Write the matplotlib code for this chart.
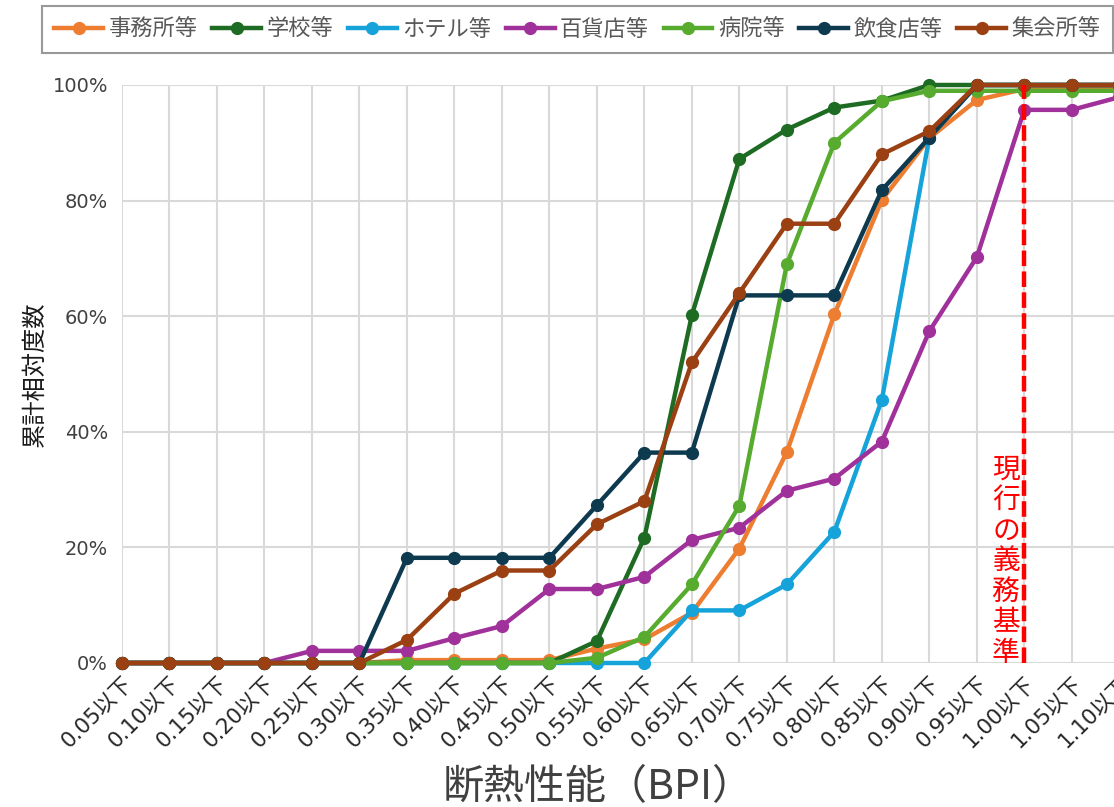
import matplotlib
matplotlib.use("Agg")
import matplotlib.pyplot as plt
from matplotlib.ticker import PercentFormatter

plt.rcParams['font.family'] = ['DejaVu Sans', 'Noto Sans CJK JP']
CJK = ['Noto Sans CJK JP', 'DejaVu Sans']

categories = ['0.05以下', '0.10以下', '0.15以下', '0.20以下', '0.25以下', '0.30以下',
              '0.35以下', '0.40以下', '0.45以下', '0.50以下', '0.55以下', '0.60以下',
              '0.65以下', '0.70以下', '0.75以下', '0.80以下', '0.85以下', '0.90以下',
              '0.95以下', '1.00以下', '1.05以下', '1.10以下']

# 累計相対度数 (%)
office = [0, 0, 0, 0, 0, 0, 0.5, 0.5, 0.5, 0.5, 2.5, 4.1, 8.7, 19.8, 36.5, 60.3, 80.1, 90.8, 97.4, 99.3, 99.3, 99.3]
school = [0, 0, 0, 0, 0, 0, 0, 0, 0, 0, 3.8, 21.7, 60.2, 87.2, 92.3, 96.1, 97.3, 100, 100, 100, 100, 100]
hotel = [0, 0, 0, 0, 0, 0, 0, 0, 0, 0, 0, 0, 9.1, 9.1, 13.6, 22.7, 45.5, 90.9, 100, 100, 100, 100]
dept = [0, 0, 0, 0, 2.1, 2.1, 2.1, 4.3, 6.4, 12.8, 12.8, 14.9, 21.3, 23.4, 29.8, 31.9, 38.3, 57.4, 70.2, 95.7, 95.7, 97.9]
hospital = [0, 0, 0, 0, 0, 0, 0, 0, 0, 0, 0.9, 4.5, 13.6, 27.2, 69.0, 90.0, 97.2, 99.0, 99.0, 99.0, 99.0, 99.0]
restaurant = [0, 0, 0, 0, 0, 0, 18.2, 18.2, 18.2, 18.2, 27.3, 36.4, 36.4, 63.6, 63.6, 63.6, 81.8, 90.9, 100, 100, 100, 100]
hall = [0, 0, 0, 0, 0, 0, 4, 12, 16, 16, 24, 28, 52, 64, 76, 76, 88, 92, 100, 100, 100, 100]

series = [
    ('事務所等', office, '#ED7D31'),
    ('学校等', school, '#1E6B23'),
    ('ホテル等', hotel, '#15A3DA'),
    ('百貨店等', dept, '#A0309A'),
    ('病院等', hospital, '#57AB2F'),
    ('飲食店等', restaurant, '#0E3A50'),
    ('集会所等', hall, '#9A4012'),
]
standard_idx = 19  # 1.00以下
standard_label = '現行の義務基準'

fig = plt.figure(figsize=(11.14, 8.07), dpi=100)
# 右端は画像の外まで伸びる（元画像で切れている）
ax = fig.add_axes([122 / 1114, 144 / 807, 1021 / 1114, 578 / 807])

x = list(range(len(categories)))
for name, vals, col in series:
    ax.plot(x, vals, color=col, lw=3.2, marker='o', ms=8.5, label=name, clip_on=False, zorder=3)

ax.plot([standard_idx, standard_idx], [0, 100], color='#FF0000', lw=3.2, dashes=(3.5, 1.2), zorder=4)
ax.text(standard_idx - 0.38, -0.8, '\n'.join(standard_label), color='#FF0000', fontsize=20,
        family=CJK, ha='center', va='bottom', linespacing=1.02, zorder=5)

ax.set_xlim(0, 21.5)
ax.set_ylim(0, 100)
ax.set_xticks(x)
ax.set_xticklabels(categories, rotation=45, ha='right', va='top', rotation_mode='anchor',
                   fontsize=15.5, color='#262626')
ax.set_yticks([0, 20, 40, 60, 80, 100])
ax.yaxis.set_major_formatter(PercentFormatter(decimals=0))
ax.tick_params(axis='y', labelsize=14, labelcolor='#404040', length=0, pad=10)
ax.tick_params(axis='x', length=0, pad=7)
ax.grid(True, color='#D9D9D9', lw=1.5)
ax.set_axisbelow(True)
for s in ax.spines.values():
    s.set_visible(False)

ax.set_ylabel('累計相対度数', fontsize=17.5, color='#1a1a1a', va='center', family=CJK)
ax.yaxis.set_label_coords((35 - 122) / 1021, 0.5)
fig.text(598 / 1114, -1 / 807, '断熱性能（BPI）', fontsize=29.5, color='#404040', ha='center', va='bottom',
         family=CJK)

leg = fig.legend(loc='upper left', bbox_to_anchor=(42 / 1114, 1 - 6 / 807), ncol=7,
                 prop={'family': CJK, 'size': 16},
                 frameon=True, fancybox=False, handlelength=2.2, columnspacing=0.65,
                 handletextpad=0.25, borderpad=0.55, borderaxespad=0, labelcolor='#595959')
leg.get_frame().set_edgecolor('#808080')
leg.get_frame().set_linewidth(1.5)

fig.savefig('out.png', dpi=100)
